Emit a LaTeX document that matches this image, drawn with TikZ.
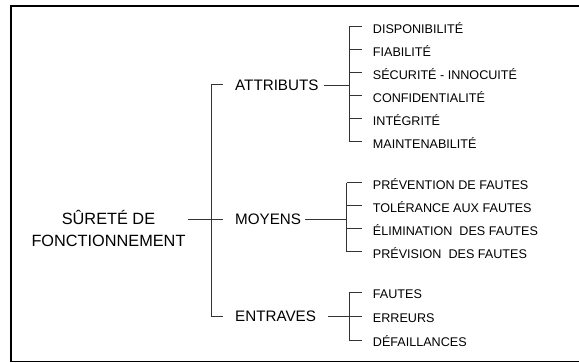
\documentclass[tikz,border=0pt]{standalone}
\usepackage{fontspec}
\setmainfont{Liberation Sans}
\begin{document}
\begin{tikzpicture}[x=1pt,y=-1pt,
  ln/.style={line width=0.9pt,draw=black!80},
  frame/.style={line width=1.6pt,draw=black},
  root/.style={inner sep=0pt,align=center,font=\fontsize{16.3}{21.7}\selectfont},
  lvlone/.style={inner sep=0pt,anchor=base west,font=\fontsize{15.2}{16}\selectfont},
  item/.style={inner sep=0pt,anchor=base west,font=\fontsize{12.6}{14}\selectfont}]
\useasboundingbox (0,0) rectangle (579,363);
\draw[frame] (10.7,6) rectangle (600,361.5);
% root
\node[root,anchor=base] (root) at (108.5,246.7) {SÛRETÉ DE\\FONCTIONNEMENT};
% level one bracket
\coordinate (bt) at (211,84.5);
\coordinate (bm) at (211,219.3);
\coordinate (bb) at (211,316.7);
\draw[ln] (bt) -- (bb);
\draw[ln] (bt) -- ++(12,0);
\draw[ln] (bb) -- ++(12,0);
\draw[ln] ([xshift=2pt]root.east |- bm) -- (bm) -- ++(12,0);
% level one nodes
\node[lvlone] (att) at (235,90.3) {ATTRIBUTS};
\node[lvlone] (moy) at (235,224.7) {MOYENS};
\node[lvlone] (ent) at (235,322) {ENTRAVES};
% ATTRIBUTS bracket
\coordinate (a1) at (349,26.7);
\coordinate (a2) at (349,49.7);
\coordinate (a3) at (349,72.7);
\coordinate (a4) at (349,95.7);
\coordinate (a5) at (349,118.7);
\coordinate (a6) at (349,141.7);
\coordinate (aj) at (349,85);
\draw[ln] (a1) -- (a6);
\draw[ln] ([xshift=5pt]att.east |- aj) -- (aj);
\node[item] (d1) at (372.7,33.2) {DISPONIBILITÉ};
\node[item] (d2) at (372.7,56.2) {FIABILITÉ};
\node[item] (d3) at (372.7,79.2) {SÉCURITÉ - INNOCUITÉ};
\node[item] (d4) at (372.7,102.2) {CONFIDENTIALITÉ};
\node[item] (d5) at (372.7,125.2) {INTÉGRITÉ};
\node[item] (d6) at (372.7,148.2) {MAINTENABILITÉ};
\foreach \i in {1,...,6}{\draw[ln] (a\i) -- ([xshift=-11pt]d\i.west |- a\i);}
% MOYENS bracket
\coordinate (m1) at (346.7,182.7);
\coordinate (m2) at (346.7,205.7);
\coordinate (m3) at (346.7,228.7);
\coordinate (m4) at (346.7,251.7);
\coordinate (mj) at (346.7,219.3);
\draw[ln] (m1) -- (m4);
\draw[ln] ([xshift=4pt]moy.east |- mj) -- (mj);
\node[item] (p1) at (372.7,189.2) {PRÉVENTION DE FAUTES};
\node[item] (p2) at (372.7,212.2) {TOLÉRANCE AUX FAUTES};
\node[item] (p3) at (372.7,235.2) {ÉLIMINATION\ \ DES FAUTES};
\node[item] (p4) at (372.7,258.2) {PRÉVISION\ \ DES FAUTES};
\foreach \i in {1,...,4}{\draw[ln] (m\i) -- ([xshift=-11pt]p\i.west |- m\i);}
% ENTRAVES bracket
\coordinate (e1) at (349,292.5);
\coordinate (e2) at (349,316.5);
\coordinate (e3) at (349,340);
\draw[ln] (e1) -- (e3);
\draw[ln] ([xshift=12pt]ent.east |- e2) -- (e2);
\node[item] (f1) at (372.7,299) {FAUTES};
\node[item] (f2) at (372.7,323) {ERREURS};
\node[item] (f3) at (372.7,346.5) {DÉFAILLANCES};
\foreach \i in {1,...,3}{\draw[ln] (e\i) -- ([xshift=-11pt]f\i.west |- e\i);}
\end{tikzpicture}
\end{document}
